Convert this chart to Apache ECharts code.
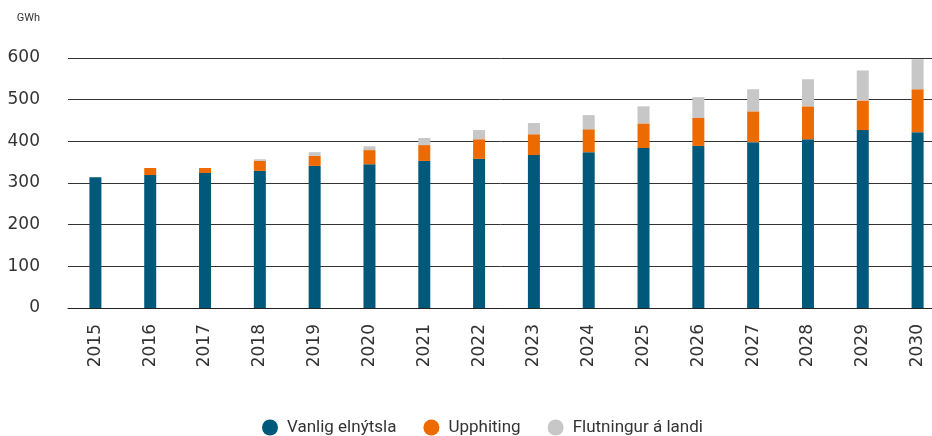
<!DOCTYPE html>
<html>
<head>
<meta charset="utf-8">
<script src="https://cdn.jsdelivr.net/npm/echarts@6/dist/echarts.min.js"></script>
<style>
  html, body { margin: 0; padding: 0; background: #fff; }
  #chart { width: 932px; height: 436px; }
</style>
</head>
<body>
<div id="chart"></div>
<script>
const years = ["2015", "2016", "2017", "2018", "2019", "2020", "2021", "2022",
  "2023", "2024", "2025", "2026", "2027", "2028", "2029", "2030"];
// GWh
const vanlig = [314, 319, 324, 329, 341, 345, 353, 358, 367, 374, 384, 389, 398, 405, 427, 422];
const upphiting = [0, 17, 12, 24, 24, 34, 38, 47, 50, 55, 59, 67, 74, 79, 71, 103];
const flutningur = [0, 0, 0, 4, 9, 9, 17, 22, 27, 34, 41, 50, 53, 65, 72, 72];
const yTicks = { min: 0, max: 600, interval: 100 };

const colors = ["#00587a", "#ec6a00", "#c6c7c6"];
const axisFont = "DejaVu Sans";
const font = "Roboto";

const chart = echarts.init(document.getElementById("chart"));

function barSeries(name, data, color) {
  return {
    name,
    type: "bar",
    stack: "total",
    barWidth: 12,
    data,
    itemStyle: { color },
  };
}

chart.setOption({
  animation: false,
  textStyle: { fontFamily: font },
  grid: {
    left: 68,
    top: 58,
    width: 877,
    height: 250,
    containLabel: false,
    outerBoundsMode: "none",
  },
  legend: {
    left: 262,
    top: 419,
    padding: 0,
    icon: "circle",
    itemWidth: 16,
    itemHeight: 16,
    itemGap: 27,
    textStyle: { fontSize: 17, color: "#333", fontFamily: font, padding: [0, 0, 0, 4] },
    data: ["Vanlig elnýtsla", "Upphiting", "Flutningur á landi"],
  },
  xAxis: {
    type: "category",
    data: years,
    axisTick: { show: false },
    axisLine: { lineStyle: { color: "#222", width: 1 } },
    axisLabel: {
      rotate: 90,
      margin: 16,
      fontSize: 17,
      color: "#333",
      fontFamily: axisFont,
    },
  },
  yAxis: {
    type: "value",
    min: yTicks.min,
    max: yTicks.max,
    interval: yTicks.interval,
    name: "GWh",
    nameLocation: "end",
    nameGap: 34,
    nameTextStyle: {
      fontSize: 11,
      color: "#333",
      align: "right",
      padding: [0, 28, 0, 0],
      fontFamily: font,
    },
    axisLine: { show: false },
    axisTick: { show: false },
    axisLabel: { fontSize: 17, color: "#333", margin: 28, fontFamily: axisFont },
    splitLine: { lineStyle: { color: "#333", width: 1 } },
  },
  series: [
    barSeries("Vanlig elnýtsla", vanlig, colors[0]),
    barSeries("Upphiting", upphiting, colors[1]),
    barSeries("Flutningur á landi", flutningur, colors[2]),
  ],
});
</script>
</body>
</html>
